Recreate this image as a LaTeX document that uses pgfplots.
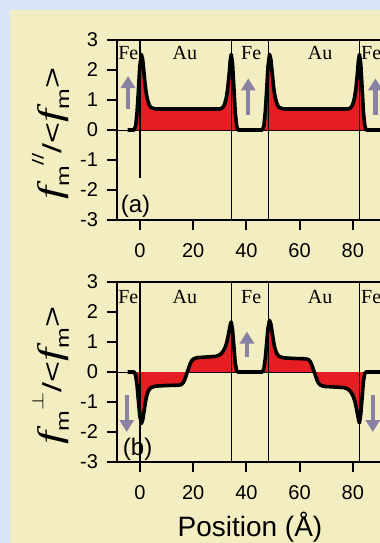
\documentclass[border=0pt]{standalone}
\usepackage{fontspec}
\setmainfont{Liberation Sans}
\newfontfamily\seriffont{Liberation Serif}
\usepackage{pgfplots}
\usepackage{pgfplotstable}
\pgfplotsset{compat=1.18}
\usetikzlibrary{arrows.meta}

\definecolor{bgblue}{RGB}{214,228,246}
\definecolor{cream}{RGB}{243,238,194}
\definecolor{fillred}{RGB}{230,30,35}
\definecolor{arrowgray}{RGB}{138,130,162}

\pgfplotstableread{
x y
-4.7 0
-2.2 0
-1.6 0.15
-1.1 0.6
-0.6 1.3
-0.1 2.1
0.5 2.52
1.0 2.35
1.5 1.9
2.0 1.45
2.5 1.15
3.0 0.95
3.5 0.83
4.0 0.76
5.0 0.72
6.0 0.70
30.0 0.70
31.0 0.74
31.5 0.80
32.0 0.92
32.5 1.10
33.0 1.40
33.5 1.85
33.9 2.30
34.3 2.52
34.8 2.2
35.3 1.4
35.8 0.6
36.3 0.15
36.8 0
46.0 0
46.6 0.15
47.1 0.6
47.6 1.3
48.1 2.1
48.7 2.52
49.2 2.35
49.7 1.9
50.2 1.45
50.7 1.15
51.2 0.95
51.7 0.83
52.2 0.76
53.2 0.72
54.2 0.70
78.2 0.70
79.2 0.74
79.7 0.80
80.2 0.92
80.7 1.10
81.2 1.40
81.7 1.85
82.1 2.30
82.5 2.52
83.0 2.2
83.5 1.4
84.0 0.6
84.5 0.15
85.0 0
100 0
}\toppar

\pgfplotstableread{
x y
-4.7 0
-2.2 0
-1.6 -0.12
-1.1 -0.45
-0.6 -0.95
-0.1 -1.45
0.5 -1.72
1.0 -1.6
1.5 -1.32
2.0 -1.02
2.5 -0.80
3.0 -0.66
3.5 -0.58
4.0 -0.53
5.0 -0.49
6.0 -0.47
10.0 -0.45
14.5 -0.44
15.5 -0.42
16.2 -0.36
16.8 -0.26
17.3 -0.13
17.8 0
18.3 0.13
18.8 0.26
19.4 0.37
20.2 0.44
21.5 0.48
25.0 0.50
28.5 0.52
29.5 0.55
30.5 0.61
31.3 0.70
32.0 0.82
32.6 0.98
33.1 1.18
33.6 1.42
34.0 1.60
34.3 1.67
34.8 1.4
35.3 0.85
35.8 0.3
36.3 0.05
36.8 0
46.0 0
46.6 0.12
47.1 0.45
47.6 0.95
48.1 1.45
48.7 1.72
49.2 1.6
49.7 1.32
50.2 1.02
50.7 0.80
51.2 0.66
51.7 0.58
52.2 0.53
53.2 0.49
54.2 0.47
58.2 0.45
62.2 0.44
63.2 0.42
63.9 0.36
64.5 0.26
65.0 0.13
65.5 0
66.0 -0.13
66.5 -0.26
67.1 -0.37
67.9 -0.44
69.2 -0.48
73.2 -0.50
76.7 -0.52
77.7 -0.55
78.7 -0.61
79.5 -0.70
80.2 -0.82
80.8 -0.98
81.3 -1.18
81.8 -1.42
82.2 -1.60
82.5 -1.70
83.0 -1.4
83.5 -0.85
84.0 -0.3
84.5 -0.05
85.0 0
100 0
}\botpar

\pgfplotsset{
  panel/.style={
    anchor=south west,
    width=144.5pt, height=90pt, scale only axis,
    xmin=-8.65, xmax=100, ymin=-3, ymax=3,
    axis line style={line width=1pt},
    tick style={line width=1pt, black},
    tick align=outside, major tick length=5pt,
    xtick={0,20,40,60,80}, ytick={-3,-2,-1,0,1,2,3},
    xtick pos=bottom, ytick pos=left,
    /pgf/number format/assume math mode=true,
    tick label style={font=\fontsize{10}{12}\selectfont},
    xticklabel style={yshift=-3pt},
    yticklabel style={xshift=-1pt},
    ylabel style={at={(axis description cs:-0.23,0.48)}, anchor=center, font=\fontsize{13}{14}\selectfont},
  },
}

\newcommand{\ff}{{\seriffont\itshape\fontsize{17}{17}\selectfont f}}
\newcommand{\msub}{\raisebox{-0.55ex}{\fontsize{9}{9}\selectfont m}}

\begin{document}
\begin{tikzpicture}
\useasboundingbox (0,0) rectangle (190pt,271.5pt);
\clip (0,0) rectangle (190pt,271.5pt);
\fill[bgblue] (0,0) rectangle (190pt,271.5pt);
\fill[cream] (5pt,0) rectangle (190pt,266.5pt);

% ---------- top panel ----------
\begin{axis}[panel, at={(58.5pt,161.5pt)},
  ylabel={\scalebox{1.38}[1]{\ff\msub\raisebox{1.3ex}{\fontsize{8}{8}\selectfont //}/<\ff\msub>}}]
\draw[line width=0.5pt] (axis cs:-8.65,0) -- (axis cs:100,0);
\addplot[draw=none, fill=fillred] table[x=x,y=y] {\toppar} \closedcycle;
\draw[line width=0.6pt] (axis cs:0,3) -- (axis cs:0,-1.6);
\draw[line width=0.6pt] (axis cs:34.5,3) -- (axis cs:34.5,-3);
\draw[line width=0.6pt] (axis cs:48.2,3) -- (axis cs:48.2,-3);
\draw[line width=0.6pt] (axis cs:82.5,3) -- (axis cs:82.5,-3);
\addplot[black, line width=1.8pt, line join=round] table[x=x,y=y] {\toppar};
\draw[arrowgray, line width=2.2pt, -{Triangle[width=7pt,length=6pt]}] (axis cs:-4.5,0.7) -- (axis cs:-4.5,1.8);
\draw[arrowgray, line width=2.2pt, -{Triangle[width=7pt,length=6pt]}] (axis cs:40.7,0.5) -- (axis cs:40.7,1.72);
\draw[arrowgray, line width=2.2pt, -{Triangle[width=7pt,length=6pt]}] (axis cs:88.5,0.5) -- (axis cs:88.5,1.72);
\node[font=\seriffont\fontsize{10}{10}\selectfont] at (axis cs:-4.4,2.57) {Fe};
\node[font=\seriffont\fontsize{10}{10}\selectfont] at (axis cs:16.9,2.57) {Au};
\node[font=\seriffont\fontsize{10}{10}\selectfont] at (axis cs:41.8,2.57) {Fe};
\node[font=\seriffont\fontsize{10}{10}\selectfont] at (axis cs:67.7,2.57) {Au};
\node[font=\seriffont\fontsize{10}{10}\selectfont] at (axis cs:86.9,2.57) {Fe};
\node[font=\fontsize{12}{14}\selectfont] at (axis cs:-1.7,-2.53) {(a)};
\end{axis}

% ---------- bottom panel ----------
\begin{axis}[panel, at={(58.5pt,40.5pt)},
  ylabel={\scalebox{1.38}[1]{\ff\msub\raisebox{1.3ex}{\fontsize{8}{8}\selectfont$\perp$}/<\ff\msub>}},
  xlabel={Position (Å)},
  xlabel style={at={(axis description cs:0.46,-0.36)}, anchor=center, font=\fontsize{14}{16}\selectfont}]
\draw[line width=0.5pt] (axis cs:-8.65,0) -- (axis cs:100,0);
\addplot[draw=none, fill=fillred] table[x=x,y=y] {\botpar} \closedcycle;
\draw[line width=0.6pt] (axis cs:0,3) -- (axis cs:0,-3);
\draw[line width=0.6pt] (axis cs:34.5,3) -- (axis cs:34.5,-3);
\draw[line width=0.6pt] (axis cs:48.2,3) -- (axis cs:48.2,-3);
\draw[line width=0.6pt] (axis cs:82.5,3) -- (axis cs:82.5,-3);
\addplot[black, line width=1.8pt, line join=round] table[x=x,y=y] {\botpar};
\draw[arrowgray, line width=2.2pt, -{Triangle[width=7pt,length=6pt]}] (axis cs:-5,-0.78) -- (axis cs:-5,-2.0);
\draw[arrowgray, line width=2.2pt, -{Triangle[width=7pt,length=6pt]}] (axis cs:40.2,0.5) -- (axis cs:40.2,1.35);
\draw[arrowgray, line width=2.2pt, -{Triangle[width=7pt,length=6pt]}] (axis cs:87.5,-0.78) -- (axis cs:87.5,-2.0);
\node[font=\seriffont\fontsize{10}{10}\selectfont] at (axis cs:-4.4,2.5) {Fe};
\node[font=\seriffont\fontsize{10}{10}\selectfont] at (axis cs:16.9,2.5) {Au};
\node[font=\seriffont\fontsize{10}{10}\selectfont] at (axis cs:41.8,2.5) {Fe};
\node[font=\seriffont\fontsize{10}{10}\selectfont] at (axis cs:67.7,2.5) {Au};
\node[font=\seriffont\fontsize{10}{10}\selectfont] at (axis cs:86.9,2.5) {Fe};
\node[font=\fontsize{12}{14}\selectfont] at (axis cs:-0.9,-2.57) {(b)};
\end{axis}
\end{tikzpicture}
\end{document}
